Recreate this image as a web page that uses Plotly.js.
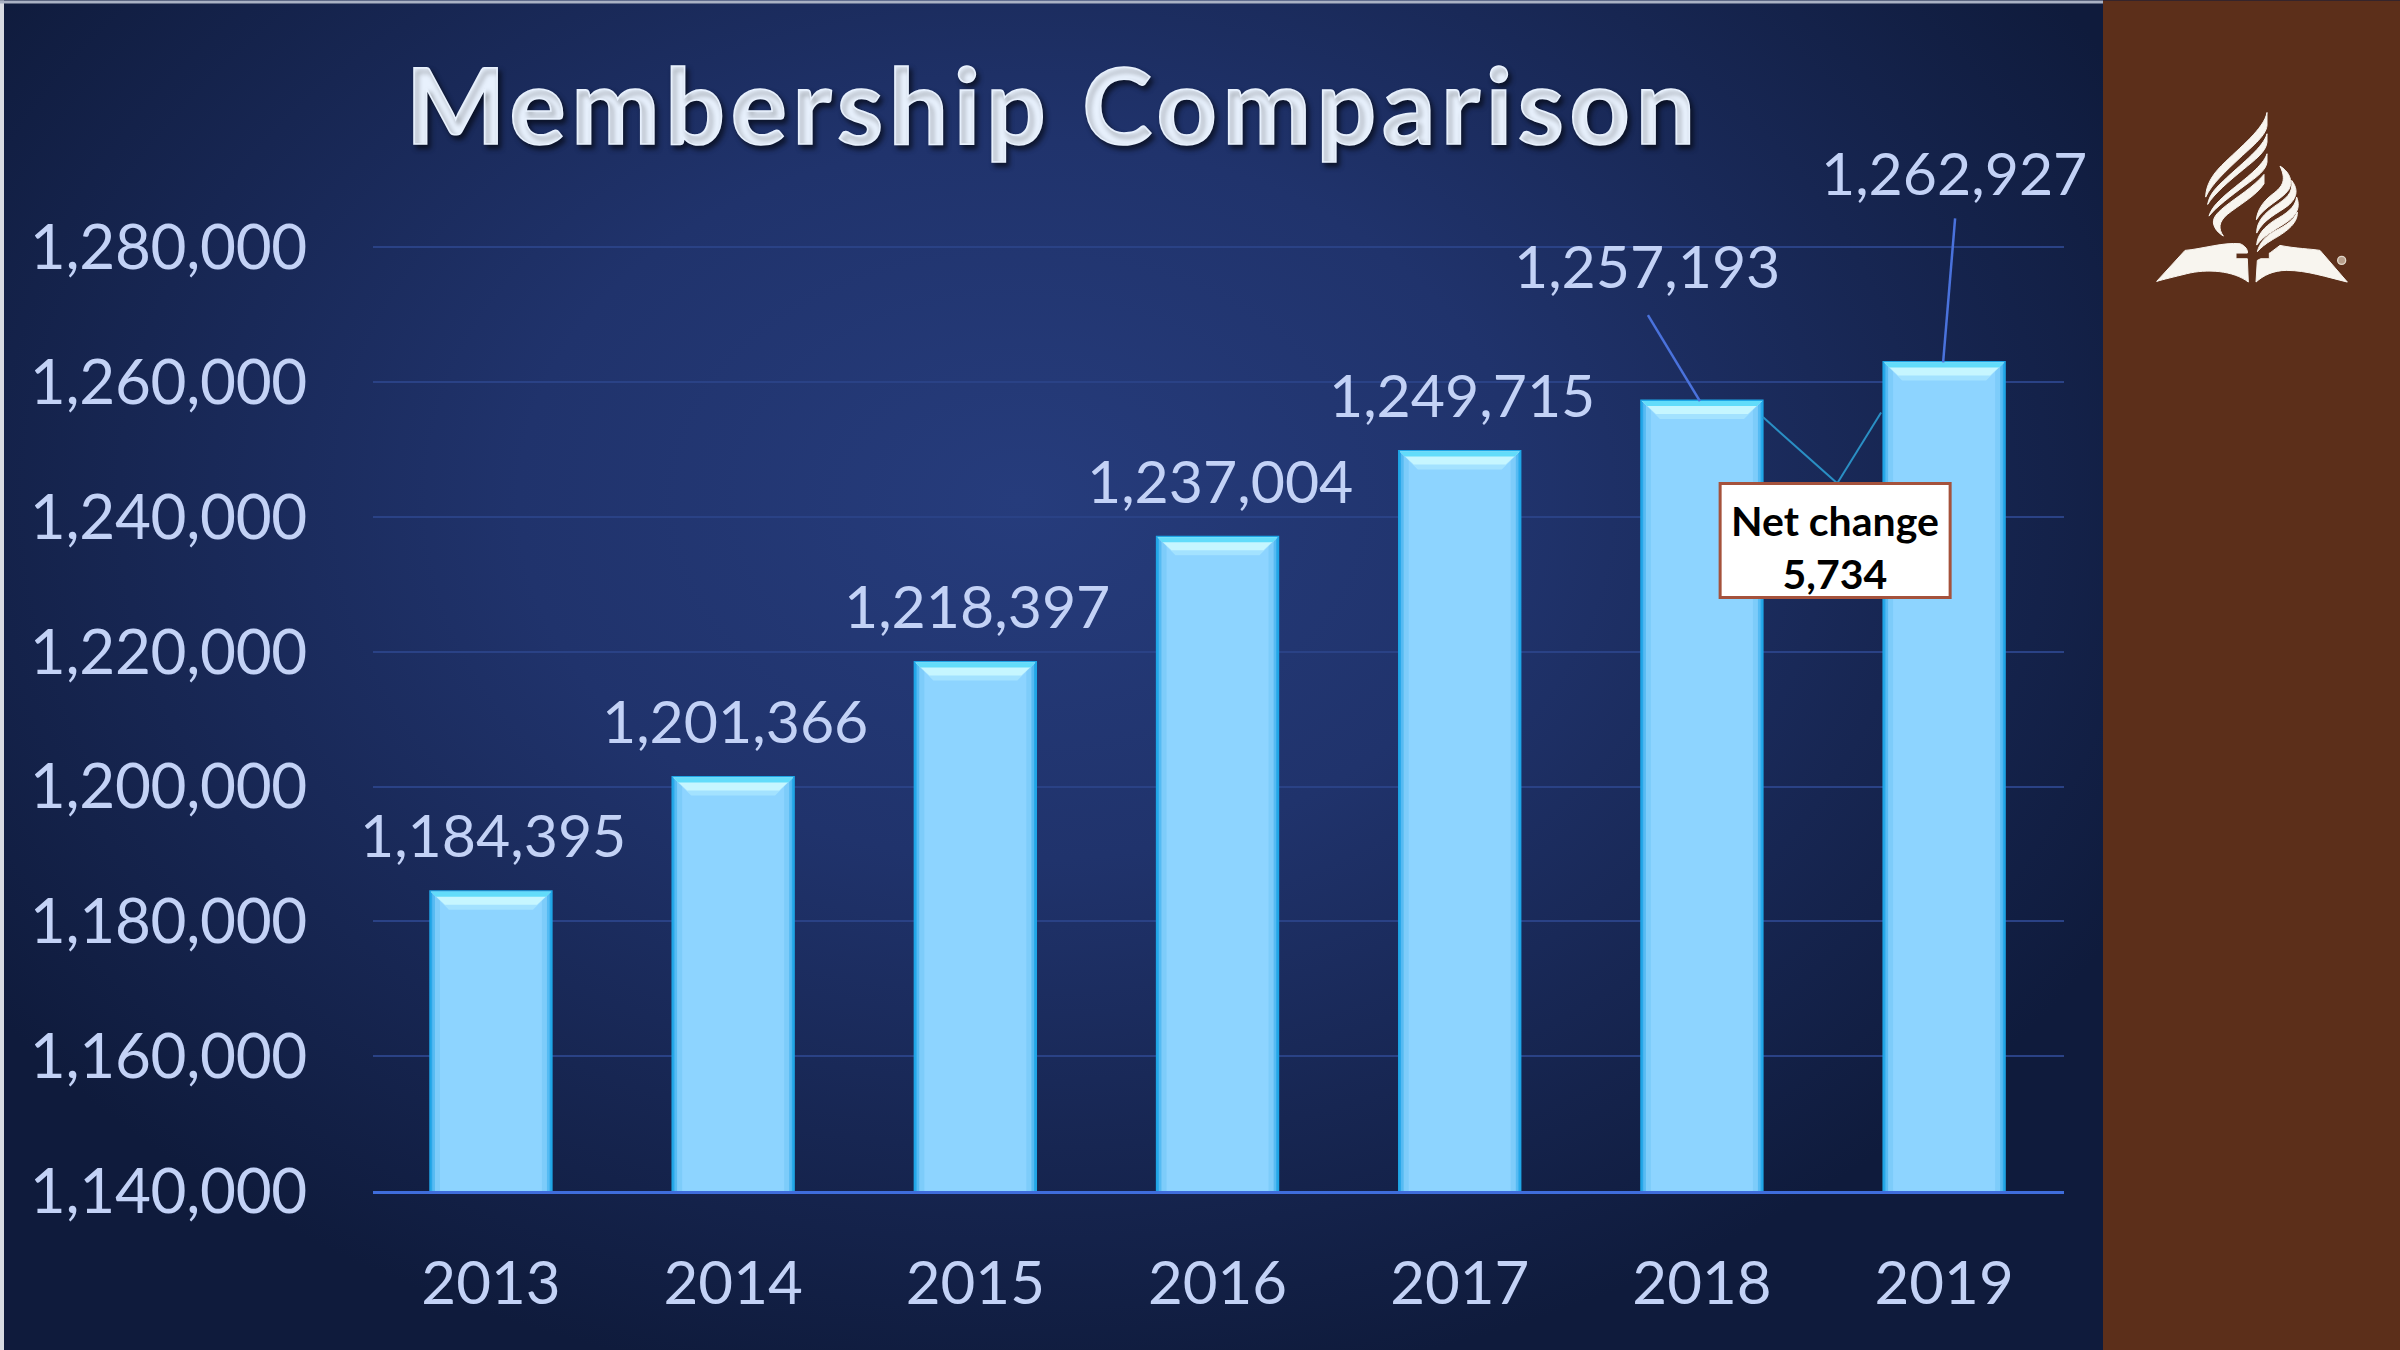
<!DOCTYPE html>
<html>
<head>
<meta charset="utf-8">
<title>Membership Comparison</title>
<script src="https://cdn.plot.ly/plotly-3.0.1.min.js"></script>
<style>
html,body{margin:0;padding:0;width:2400px;height:1350px;overflow:hidden;
background:radial-gradient(ellipse 1250px 900px at 1020px 500px,#263c7c 0%,#20336c 40%,#172652 72%,#0f1b3c 100%);}
#chart{width:2400px;height:1350px;}
#chart .gtitle{letter-spacing:5.2px;stroke:#e8f1fd;stroke-width:1.6px;}
#chart .ytick text{letter-spacing:-0.3px;}
</style>
</head>
<body>
<div id="chart"></div>
<script>
const years = [2013, 2014, 2015, 2016, 2017, 2018, 2019];
const members = [1184395, 1201366, 1218397, 1237004, 1249715, 1257193, 1262927];
const memberLabels = ["1,184,395", "1,201,366", "1,218,397", "1,237,004", "1,249,715", "1,257,193", "1,262,927"];
const yTicks = [1140000, 1160000, 1180000, 1200000, 1220000, 1240000, 1260000, 1280000];
const yTickLabels = ["1,140,000", "1,160,000", "1,180,000", "1,200,000", "1,220,000", "1,240,000", "1,260,000", "1,280,000"];
const labelShiftX = [2, 2, 2, 2, 2, -55, 10];
const labelShiftY = [57, 57, 57, 57, 57, 136, 190];
const chartTitle = "Membership Comparison";
const calloutText = "Net change<br>5,734";

const FONT = "Lato, Carlito, sans-serif";
const TEXT = "#c3d2f6";

const logoSvg = `<svg xmlns="http://www.w3.org/2000/svg" viewBox="0 0 660 570" width="660" height="570"><g fill="#f8f5ef" stroke="#f8f5ef" stroke-width="3">
<path d="M381,36 C372,85 300,140 245,195 C215,225 198,255 197,290 C215,250 260,210 300,172 C340,135 378,105 381,75 Z"/>
<path d="M381,100 C370,140 310,185 260,232 C232,258 208,280 203,312 C222,280 270,240 310,207 C345,178 378,155 381,125 Z"/>
<path d="M381,160 C370,195 315,235 270,272 C240,297 215,320 207,347 C228,320 275,285 315,255 C350,230 378,210 381,185 Z"/>
<path d="M372,222 C340,260 290,290 255,318 C228,340 215,355 222,375 C228,392 240,400 250,407 C235,385 235,365 262,342 C295,315 350,285 372,250 Z"/>
<path d="M420,197 C445,212 462,240 446,268 C425,298 372,318 349,358 C352,330 368,305 393,285 C423,262 443,245 420,197 Z"/>
<path d="M455,240 C478,270 468,295 445,315 C412,340 372,355 350,398 C350,362 373,340 403,318 C438,294 460,280 455,240 Z"/>
<path d="M470,290 C484,325 465,350 433,370 C402,390 372,405 350,434 C352,402 373,380 403,360 C438,340 466,322 470,290 Z"/>
<path d="M472,335 C474,372 432,398 397,418 C377,430 362,442 352,454 C358,428 378,405 408,390 C440,374 462,358 472,335 Z"/>
<path d="M50,543 L135,450 C190,445 250,425 300,430 C315,435 325,450 322,458 L288,458 L288,475 L322,475 L325,545 C280,510 200,505 140,520 C100,530 70,537 50,543 Z"/>
<path d="M348,545 L352,480 L362,475 L388,475 L388,458 L392,456 L420,435 C470,445 510,445 540,450 L622,545 C560,530 500,510 440,510 C400,510 370,525 348,545 Z"/>
</g><circle cx="605" cy="480" r="12" fill="#b89f8c" stroke="#e0d6c8" stroke-width="4"/></svg>`;

// plot-area frame in page pixels, used only to place decorations in paper space
const yMax = 1290000;
const L = 373, R = 2064, B = 1191;
const T = B - (yMax - yTicks[0]) * 944 / (yTicks[7] - yTicks[0]);
const px = x => (x - L) / (R - L);
const py = y => (B - y) / (B - T);

const shapes = [
  {type:"rect", xref:"paper", yref:"paper", x0:px(2103), x1:px(2400), y0:py(0), y1:py(1350), fillcolor:"#5c2f1a", line:{width:0}, layer:"below"},
  {type:"rect", xref:"paper", yref:"paper", x0:px(0), x1:px(4), y0:py(0), y1:py(1350), fillcolor:"#d8dbe2", line:{width:0}, layer:"below"},
  {type:"rect", xref:"paper", yref:"paper", x0:px(0), x1:px(2103), y0:py(0), y1:py(3), fillcolor:"#aab2c4", line:{width:0}, layer:"below"}
];

years.forEach((yr, i) => {
  const base = {xref:"x", yref:"y", xsizemode:"pixel", xanchor:yr, layer:"above"};
  // soft inner edges of each bevelled column
  shapes.push({...base, type:"rect", x0:-60, x1:-56, y0:yTicks[0], y1:members[i], fillcolor:"rgba(50,170,235,0.6)", line:{width:0}});
  shapes.push({...base, type:"rect", x0:56, x1:60, y0:yTicks[0], y1:members[i], fillcolor:"rgba(50,170,235,0.6)", line:{width:0}});
  shapes.push({...base, type:"rect", x0:-56, x1:-51, y0:yTicks[0], y1:members[i], fillcolor:"rgba(90,185,240,0.3)", line:{width:0}});
  shapes.push({...base, type:"rect", x0:51, x1:56, y0:yTicks[0], y1:members[i], fillcolor:"rgba(90,185,240,0.3)", line:{width:0}});
  // top bevel, fading from a bright rim into the column
  shapes.push({...base, type:"path", ysizemode:"pixel", yanchor:members[i],
    path:"M-60,0 L60,0 L42,-18 L-42,-18 Z", fillcolor:"rgba(190,243,255,0.45)", line:{width:0}});
  shapes.push({...base, type:"path", ysizemode:"pixel", yanchor:members[i],
    path:"M-60,0 L60,0 L46,-13 L-46,-13 Z", fillcolor:"#c6f6ff", line:{width:0}});
  shapes.push({...base, type:"path", ysizemode:"pixel", yanchor:members[i],
    path:"M-60,0 L60,0 L55,-5 L-55,-5 Z", fillcolor:"#62dcfa", line:{width:0}});
});

// leader lines from the two offset labels to their bars
const leader = (i, x1, y1, color, width) => ({type:"line", xref:"x", yref:"y", xsizemode:"pixel", ysizemode:"pixel",
  xanchor:years[i], yanchor:members[i], x0:x1[0], y0:x1[1], x1:y1[0], y1:y1[1], line:{color:color, width:width}, layer:"above"});
shapes.push(leader(5, [-2, 0], [-54, 86], "#4a72dc", 2.5));
shapes.push(leader(6, [-1, 0], [11, 144], "#4a72dc", 2.5));
shapes.push(leader(5, [61, -16], [135, -82], "#2a8fc4", 2));
shapes.push(leader(6, [-63, -50], [-107, -121], "#2a8fc4", 2));

// callout box, anchored between the last two bars
const calloutX = 2018.55, calloutY = 1236516;
shapes.push({type:"rect", xref:"x", yref:"y", xsizemode:"pixel", ysizemode:"pixel", xanchor:calloutX, yanchor:calloutY,
  x0:-115, x1:115, y0:-57, y1:57, fillcolor:"#ffffff", line:{color:"#a5523c", width:3}, layer:"above"});

const annotations = years.map((yr, i) => ({
  x: yr, y: members[i], xref: "x", yref: "y", text: memberLabels[i], showarrow: false,
  xanchor: "center", yanchor: "middle", xshift: labelShiftX[i], yshift: labelShiftY[i],
  font: {family: FONT, size: 59, color: TEXT, weight: 400}
}));
annotations.push({
  x: calloutX, y: calloutY, xref: "x", yref: "y", text: calloutText, showarrow: false,
  xanchor: "center", yanchor: "middle", align: "center", yshift: -7,
  font: {family: FONT, size: 41, color: "#000000", weight: 700}
});

const data = [{
  type: "bar", x: years, y: members, width: 0.497,
  marker: {color: "#8dd4ff", line: {color: "#1fa6e6", width: 3}},
  hoverinfo: "skip"
}];

const layout = {
  width: 2400, height: 1350,
  margin: {l: L, r: 2400 - R, t: T, b: 1350 - B, pad: 0},
  paper_bgcolor: "rgba(0,0,0,0)", plot_bgcolor: "rgba(0,0,0,0)",
  showlegend: false,
  title: {text: chartTitle, x: 1053 / 2400, xref: "container", xanchor: "center", y: 1 - 107 / 1350, yref: "container", yanchor: "middle",
    font: {family: FONT, size: 106, color: "#e8f1fd", weight: 700, shadow: "3px 4px 5px rgba(0,0,0,0.55)"}},
  xaxis: {type: "linear", range: [2012.513, 2019.495], tickmode: "array", tickvals: years, ticktext: years.map(String),
    showgrid: false, zeroline: false, showline: true, linecolor: "#3f6ddc", linewidth: 3, ticks: "",
    ticklabelstandoff: 38, tickfont: {family: FONT, size: 60, color: TEXT, weight: 400}},
  yaxis: {range: [yTicks[0], yMax], tickmode: "array", tickvals: yTicks, ticktext: yTickLabels,
    showgrid: true, gridcolor: "#2a4286", gridwidth: 2, zeroline: false, showline: false, ticks: "",
    ticklabelstandoff: 65, tickfont: {family: FONT, size: 62, color: TEXT, weight: 400}},
  shapes: shapes,
  annotations: annotations,
  images: [{source: "data:image/svg+xml;utf8," + encodeURIComponent(logoSvg), xref: "paper", yref: "paper",
    x: px(2140), y: py(100), sizex: 220 / (R - L), sizey: 190 / (B - T), xanchor: "left", yanchor: "top", sizing: "stretch", layer: "above"}]
};

Plotly.newPlot("chart", data, layout, {displayModeBar: false, staticPlot: true});
</script>
</body>
</html>
